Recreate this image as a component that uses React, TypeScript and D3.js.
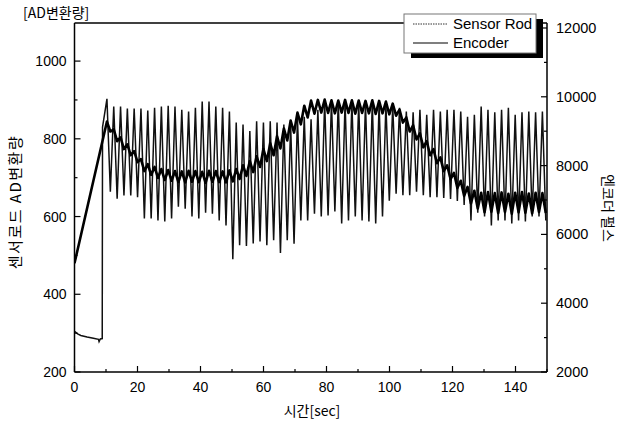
import React from 'react';
import * as d3 from 'd3';

// time axis [sec]
const timeTicks = [0, 20, 40, 60, 80, 100, 120, 140];
const timeMinor = [10, 30, 50, 70, 90, 110, 130, 150];
const adTicks = [200, 400, 600, 800, 1000];
const adMinor = [300, 500, 700, 900];
const pulseTicks = [2000, 4000, 6000, 8000, 10000, 12000];
const pulseMinor = [3000, 5000, 7000, 9000, 11000];

// sensor rod before the motion starts (sec, AD)
const sensorStartT = [0, 1, 2, 4, 6, 7.6, 7.8, 8.2, 8.8, 8.9];
const sensorStartV = [305, 298, 294, 290, 287, 284, 278, 285, 286, 830];

// one oscillation cycle after start
const firstPeakT = 10.3;
const cyclePeriod = 2.16;

// sensor rod peaks / troughs per cycle (AD)
const sensorPeaks = [
  903, 883, 883, 878, 878, 878, 873, 880, 883, 885, 883, 875, 870, 880, 896, 896,
  883, 880, 870, 842, 837, 820, 845, 842, 845, 842, 837, 837, 855, 857, 850, 875,
  896, 896, 898, 896, 896, 893, 893, 893, 890, 888, 885, 880, 870, 868, 875, 862,
  875, 870, 875, 875, 870, 857, 862, 883, 875, 868, 875, 880, 862, 868, 870, 868, 870,
];
const sensorTroughs = [
  664, 646, 654, 654, 650, 595, 595, 590, 587, 595, 625, 620, 600, 595, 610, 607,
  590, 577, 490, 526, 524, 531, 536, 526, 539, 506, 539, 530, 590, 590, 607, 600,
  603, 613, 582, 590, 600, 590, 587, 582, 600, 641, 659, 655, 655, 664, 655, 650,
  650, 648, 645, 640, 630, 590, 610, 600, 577, 590, 590, 582, 590, 587, 600, 600, 590,
];

// encoder ramp before start (sec, pulse)
const encoderStartT = [0];
const encoderStartV = [5160];

// encoder high / low per cycle (pulse)
const encoderHigh = [
  9280, 9050, 8820, 8620, 8420, 8190, 8040, 7960, 7900, 7870, 7840, 7830, 7850, 7840, 7820, 7850,
  7840, 7830, 7860, 7900, 8010, 8130, 8270, 8480, 8650, 8850, 9080, 9310, 9540, 9740, 9890, 9910,
  9920, 9900, 9890, 9910, 9900, 9890, 9880, 9900, 9880, 9860, 9800, 9630, 9400, 9170, 8940, 8710,
  8480, 8240, 8010, 7790, 7560, 7380, 7270, 7210, 7230, 7200, 7220, 7180, 7210, 7230, 7190, 7210, 7200,
];
const encoderLow = [
  8990, 8710, 8480, 8300, 8100, 7840, 7730, 7640, 7580, 7560, 7520, 7510, 7530, 7520, 7500, 7530,
  7520, 7510, 7540, 7610, 7700, 7810, 7960, 8130, 8300, 8500, 8730, 8960, 9200, 9400, 9510, 9540,
  9530, 9520, 9540, 9530, 9510, 9530, 9520, 9500, 9520, 9490, 9450, 9250, 8990, 8760, 8530, 8300,
  8070, 7840, 7610, 7350, 7120, 6900, 6750, 6640, 6660, 6620, 6650, 6600, 6640, 6630, 6610, 6650, 6620,
];

const W = 621;
const H = 430;
const left = 74.5;
const right = 547;
const top = 23;
const bottom = 372;

const numFont = '"Liberation Sans", Arial, sans-serif';
const korFont = '"Noto Sans CJK KR", "Noto Sans", sans-serif';

function cyclePoints(start: number[][], highs: number[], lows: number[]) {
  const pts = start.slice();
  highs.forEach((h, k) => {
    const t = firstPeakT + k * cyclePeriod;
    pts.push([t, h]);
    pts.push([t + cyclePeriod / 2, lows[k]]);
  });
  return pts;
}

export default function App() {
  const x = d3.scaleLinear().domain([0, 150]).range([left, right]);
  const yL = d3.scaleLinear().domain([200, 1098]).range([bottom, top]);
  const yR = d3.scaleLinear().domain([2000, 12145]).range([bottom, top]);

  const sensorPts = cyclePoints(
    sensorStartT.map((t, i) => [t, sensorStartV[i]]),
    sensorPeaks,
    sensorTroughs
  );
  const encoderPts = cyclePoints(
    encoderStartT.map((t, i) => [t, encoderStartV[i]]),
    encoderHigh,
    encoderLow
  );

  const sensorLine = d3
    .line<number[]>()
    .x(d => x(d[0]))
    .y(d => yL(d[1]));
  const encoderLine = d3
    .line<number[]>()
    .x(d => x(d[0]))
    .y(d => yR(d[1]));

  // legend box
  const lg = { x: 404, y: 14, w: 132, h: 39 };

  return (
    <svg
      width={W}
      height={H}
      style={{ position: 'absolute', left: 0, top: 0, background: '#fff' }}>
      <rect width={W} height={H} fill="#fff" />
      <defs>
        <clipPath id="plot">
          <rect x={left} y={top} width={right - left} height={bottom - top} />
        </clipPath>
      </defs>

      {/* series */}
      <g clipPath="url(#plot)">
        <path d={sensorLine(sensorPts) || ''} fill="none" stroke="#111" strokeWidth={1.5} />
        <path d={encoderLine(encoderPts) || ''} fill="none" stroke="#000" strokeWidth={2.6} strokeLinejoin="round" />
      </g>

      {/* frame */}
      <g stroke="#000" strokeWidth={1.5} fill="none">
        <line x1={left} x2={left} y1={top} y2={bottom} />
        <line x1={left} x2={right} y1={bottom} y2={bottom} />
        <line x1={left} x2={right} y1={top} y2={top} />
        <line x1={right} x2={right} y1={top} y2={bottom} />
      </g>

      {/* ticks */}
      <g stroke="#000" strokeWidth={1.2}>
        {timeTicks.map(t => (
          <line key={'bt' + t} x1={x(t)} x2={x(t)} y1={bottom} y2={bottom - 6} />
        ))}
        {timeMinor.map(t => (
          <line key={'bm' + t} x1={x(t)} x2={x(t)} y1={bottom} y2={bottom - 3} />
        ))}
        {adTicks.map(v => (
          <line key={'lt' + v} x1={left} x2={left + 6} y1={yL(v)} y2={yL(v)} />
        ))}
        {adMinor.map(v => (
          <line key={'lm' + v} x1={left} x2={left + 3} y1={yL(v)} y2={yL(v)} />
        ))}
        {pulseTicks.map(v => (
          <line key={'rt' + v} x1={right} x2={right - 6} y1={yR(v)} y2={yR(v)} />
        ))}
        {pulseMinor.map(v => (
          <line key={'rm' + v} x1={right} x2={right - 3} y1={yR(v)} y2={yR(v)} />
        ))}
      </g>

      {/* tick labels */}
      <g fontFamily={numFont} fontSize={14} fill="#000">
        {timeTicks.map(t => (
          <text key={'btl' + t} x={x(t)} y={bottom + 20} textAnchor="middle">
            {t}
          </text>
        ))}
        {adTicks.map(v => (
          <text key={'ltl' + v} x={left - 8} y={yL(v) + 5} textAnchor="end">
            {v}
          </text>
        ))}
        {pulseTicks.map(v => (
          <text key={'rtl' + v} x={right + 9} y={yR(v) + 5} fontSize={14.5}>
            {v}
          </text>
        ))}
      </g>

      {/* axis titles */}
      <g fontFamily={korFont} fontSize={14} fill="#000">
        <text x={23} y={18}>[AD변환량]</text>
        <text x={312} y={416} textAnchor="middle">시간[sec]</text>
        <text transform="translate(21,202) rotate(-90)" textAnchor="middle" fontSize={15} letterSpacing={1.5}>
          센서로드 AD변환량
        </text>
        <text transform="translate(603,208) rotate(90)" textAnchor="middle">
          엔코더 펄스
        </text>
      </g>

      {/* legend */}
      <rect x={lg.x + 7} y={lg.y + 5} width={lg.w} height={lg.h} fill="#000" />
      <rect x={lg.x} y={lg.y} width={lg.w} height={lg.h} fill="#fff" stroke="#777" strokeWidth={1} />
      <line x1={lg.x + 9} x2={lg.x + 44} y1={lg.y + 10} y2={lg.y + 10} stroke="#333" strokeWidth={1} strokeDasharray="1.5,1" />
      <line x1={lg.x + 9} x2={lg.x + 44} y1={lg.y + 29} y2={lg.y + 29} stroke="#000" strokeWidth={1.2} />
      <g fontFamily={numFont} fontSize={15} fill="#000">
        <text x={lg.x + 49} y={lg.y + 15}>Sensor Rod</text>
        <text x={lg.x + 49} y={lg.y + 34}>Encoder</text>
      </g>
    </svg>
  );
}
